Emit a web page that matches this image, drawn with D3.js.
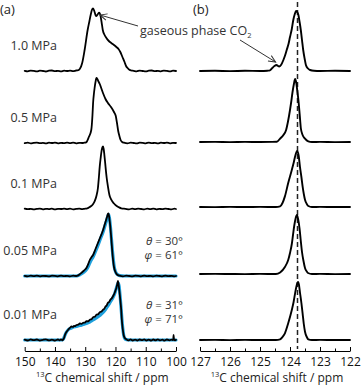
<!DOCTYPE html>
<html><head><meta charset="utf-8">
<script src="https://cdn.jsdelivr.net/npm/d3@7"></script>
<style>body{margin:0;background:#fff}svg{display:block}text{font-family:"Open Sans","Noto Sans",sans-serif}</style>
</head><body><svg id="c" width="361" height="387"></svg>
<script>
// ---------- DATA ----------
const pressures = ["1.0 MPa", "0.5 MPa", "0.1 MPa", "0.05 MPa", "0.01 MPa"];
const leftTicks = [150, 140, 130, 120, 110, 100];
const rightTicks = [127, 126, 125, 124, 123, 122];
const refShift = 123.75; // dashed reference line (ppm)
const thetaLabels = ["30°", "31°"];
const phiLabels = ["61°", "71°"];

// (a) broad spectra [ppm, intensity a.u.]
const a10 = [[150,0.2],[149,-0.3],[148,0.4],[147,0.1],[146,-0.4],[145,0.3],[144,0],[143,-0.5],[142,0.3],[141,0.5],[140,-0.2],[139,0.2],[138,-0.4],[137,0.3],[136,0],[135,0.4],[134,-0.2],[133,0.5],[132.5,0.6],[131.8,2],[131,8],[130.2,21],[129.2,41],[128.6,50],[128.2,56],[127.8,61],[127.4,62.7],[127,60],[126.6,56],[126.3,55],[125.8,57],[125.4,58.3],[125.1,57],[124.6,49],[124.2,41],[123.6,36],[123,33],[122.2,30],[121.4,28],[120.5,26],[119.7,24],[119,22],[118.4,19],[117.7,14],[117,9],[116.5,5],[116,3],[115.4,1.2],[114.8,0.5],[114,0.2],[113,-0.3],[112,0.4],[111,0],[110,-0.4],[109,0.3],[108,0.5],[107,-0.2],[106,0.2],[105,-0.3],[104,0.4],[103,0.1],[102,-0.4],[101,0.3],[100,0]];
const a05 = [[150,-0.2],[149,0.3],[148,-0.3],[147,0.2],[146,0.4],[145,-0.2],[144,0.1],[143,-0.4],[142,0.3],[141,0],[140,0.4],[139,-0.3],[138,0.2],[137,-0.2],[136,0.3],[135,-0.1],[134,0.4],[133,-0.3],[132,0.2],[131,0],[130.3,0.3],[129.7,0.6],[128.8,6],[128,13],[127.6,28],[127.4,40],[127.1,50],[126.9,55],[126.6,61],[126.3,65],[126,64],[125.7,62],[125.2,59],[124.6,54],[124,49],[123.3,44],[122.5,40],[121.5,36],[120.5,31],[119.9,27],[119.5,20],[119.1,12],[118.7,7],[118.3,3],[117.8,1],[117.2,0.3],[116,-0.3],[115,0.3],[114,0],[113,-0.4],[112,0.3],[111,0.1],[110,-0.3],[109,0.4],[108,-0.2],[107,0.2],[106,-0.4],[105,0.3],[104,0],[103,0.4],[102,-0.3],[101,0.2],[100,0]];
const a01 = [[150,0.3],[149,-0.2],[148,0.2],[147,-0.4],[146,0.1],[145,0.4],[144,-0.3],[143,0.2],[142,-0.1],[141,0.3],[140,-0.4],[139,0.2],[138,0],[137,0.4],[136,-0.2],[135,0.3],[134,-0.3],[133,0.1],[132,0.4],[131,-0.2],[130.3,0.2],[129.6,0.4],[128.5,2],[127.5,4.5],[126.9,7.6],[126.3,13],[125.8,21],[125.5,31],[125.2,42.6],[124.9,51],[124.7,56],[124.4,61],[124.1,62.6],[123.9,60],[123.7,55],[123.5,49],[123.3,42.6],[122.9,31],[122.5,22.6],[122,14],[121.4,9.3],[120.5,5.5],[119.7,3.3],[118.9,1.8],[118.1,0.7],[116.7,0.2],[115.5,-0.3],[114.5,0.3],[113.5,-0.2],[112.5,0.4],[111.5,0],[110.5,-0.3],[109.5,0.3],[108.5,-0.1],[107.5,0.4],[106.5,-0.3],[105.5,0.2],[104.5,-0.2],[103.5,0.3],[102.5,0],[101.5,-0.3],[100.5,0.3],[100,0]];
const a005 = [[150,0.2],[149,-0.3],[148,0.3],[147,-0.1],[146,0.4],[145,-0.3],[144,0.2],[143,0],[142,-0.4],[141,0.3],[140,0.1],[139,-0.3],[138,0.4],[137,-0.2],[136,0.2],[135,-0.3],[134,0.3],[133,0],[132.5,0.3],[131.9,1.5],[131.3,3],[130.4,5.5],[129.6,8],[129,12],[128.5,16],[127.9,19],[127.4,21],[126.6,27],[125.8,33],[125,39],[124.1,46],[123.5,52],[122.8,59],[122.5,62],[122.3,62.7],[122,57],[121.7,49],[121.4,38],[121.1,26],[120.8,16],[120.5,9],[120,4],[119.5,1.5],[118.6,0.3],[117.5,-0.3],[116.5,0.3],[115.5,0],[114.5,-0.4],[113.5,0.3],[112.5,0.1],[111.5,-0.3],[110.5,0.4],[109.5,-0.2],[108.5,0.2],[107.5,-0.3],[106.5,0.3],[105.5,0],[104.5,-0.3],[103.5,0.4],[102.5,-0.2],[101.5,0.2],[100.5,-0.3],[100,0]];
const a005fit = [[150,0],[140,0],[133,0],[132.5,0.2],[131.9,1],[131.3,2],[130.4,4],[129.6,6.5],[129,9.5],[128.5,13],[127.9,16.5],[127.4,19],[126.6,24.5],[125.8,30.5],[125,37],[124.1,44],[123.5,50],[122.8,57],[122.4,61],[122.2,61.5],[121.9,56],[121.6,47],[121.3,36],[121,25],[120.7,16],[120.4,9],[120,4.5],[119.5,1.8],[118.6,0.4],[117,0],[110,0],[100,0]];
const a001 = [[150,0.3],[149,-0.5],[148,0.6],[147,-0.2],[146,0.5],[145,-0.6],[144,0.2],[143,0.7],[142,-0.4],[141,0.3],[140,-0.6],[139,0.5],[138.5,-0.3],[138,0.6],[137.5,-0.4],[137.3,0.5],[137,2],[136.7,5],[136.2,8],[135.7,10],[135.1,12],[134.5,13.5],[134,13],[133.7,14.2],[133.3,13.8],[132.9,15],[132.3,15.3],[131.8,16.5],[131.2,16.2],[130.7,17.2],[130.1,17.4],[129.6,18.8],[129,18.7],[128.5,20.3],[127.9,20.8],[127.4,22.8],[126.8,23.3],[126.3,25.2],[125.7,25.8],[125.2,27.8],[124.6,28.4],[124.1,30.3],[123.7,31.2],[123.3,33.4],[122.9,34.6],[122.5,37.2],[122.1,38],[121.7,40.3],[121.3,41.4],[120.9,43.3],[120.6,45],[120.3,47],[120,49.5],[119.7,52],[119.4,56],[119.2,59],[119.05,57],[118.9,54],[118.6,46],[118.4,40],[118.1,30],[117.9,20],[117.6,11],[117.3,5],[116.9,2],[116.4,0.7],[115.8,-0.4],[115,0.6],[114.3,-0.5],[113.5,0.4],[112.8,-0.6],[112,0.5],[111.2,-0.2],[110.5,0.6],[109.8,-0.5],[109,0.3],[108.2,-0.6],[107.5,0.5],[106.8,-0.3],[106,0.6],[105.2,-0.4],[104.5,0.3],[103.8,-0.6],[103,0.5],[102.2,-0.3],[101.5,0.4],[101.1,-0.2],[100.9,1],[100.8,5],[100.65,0.5],[100.3,-0.3],[100,0.2]];
const a001fit = [[150,0],[140,0],[137.5,0],[137.2,1],[136.8,4],[136.3,7.5],[135.7,10],[135,11.5],[134.2,12.5],[133,13.5],[131.8,14.5],[130.7,15.5],[129.6,16.5],[128.5,18],[127.4,20],[126.3,22],[125.2,24.5],[124.1,27.5],[123.3,30.5],[122.5,34],[121.7,38],[120.9,42],[120.3,46],[119.8,51],[119.4,55],[119.1,57],[118.8,54],[118.5,45],[118.2,34],[117.9,22],[117.6,12],[117.3,5],[116.9,1.5],[116.4,0.4],[115,0],[108,0],[100,0]];

// (b) narrow spectra [ppm, intensity a.u.]
const b10 = [[127,0],[126.5,0.2],[126,-0.1],[125.5,0.2],[125,0],[124.75,0.3],[124.67,0.6],[124.6,2.7],[124.52,5],[124.45,6],[124.4,5],[124.36,4.5],[124.3,6],[124.22,11],[124.16,16],[124.11,21],[124.05,27],[124.0,34],[123.94,42],[123.89,51],[123.84,57],[123.8,60],[123.76,59],[123.72,56],[123.68,49],[123.64,41],[123.6,31],[123.56,21],[123.51,12],[123.47,6],[123.4,2.5],[123.33,1],[123.2,0.2],[123,0],[122.5,0.2],[122,0]];
const b05 = [[127,0],[126.5,0.1],[126,-0.1],[125.5,0.1],[125,0],[124.6,0.1],[124.44,0.3],[124.33,3.4],[124.22,7],[124.13,12],[124.07,20],[124.0,32],[123.96,40],[123.92,49],[123.87,58],[123.83,63],[123.79,59],[123.76,52],[123.72,42],[123.69,32],[123.66,21],[123.64,14],[123.58,7],[123.5,3.4],[123.39,0.7],[123.27,0],[123,0.1],[122.5,-0.1],[122,0]];
const b01 = [[127,0],[126.5,-0.1],[126,0.1],[125.5,0],[125,0.1],[124.47,0],[124.33,0.6],[124.25,4],[124.17,10.6],[124.06,24],[123.94,37],[123.88,44],[123.83,50.6],[123.76,56],[123.71,51],[123.67,40.6],[123.62,30],[123.58,20.6],[123.54,13],[123.5,7.3],[123.44,3],[123.39,1],[123.27,0],[123,0.1],[122.5,0],[122,0]];
const b005 = [[127,0],[126.5,0.1],[126,0],[125.5,-0.1],[125,0.1],[124.47,0],[124.33,1.5],[124.17,7],[124.06,14],[124.0,21],[123.94,30],[123.9,39],[123.86,48],[123.81,56],[123.77,59],[123.73,55],[123.68,45],[123.64,33],[123.6,22],[123.55,13],[123.5,6],[123.44,2.5],[123.4,1],[123.27,0],[123,0.1],[122.5,-0.1],[122,0]];
const b001 = [[127,0],[126.5,0.1],[126,-0.1],[125.5,0.1],[125,0],[124.47,0],[124.33,0.7],[124.25,3],[124.17,6.7],[124.06,16.7],[123.94,30],[123.88,38],[123.83,46.7],[123.79,53],[123.76,56.7],[123.73,58],[123.7,55],[123.67,48],[123.62,37],[123.58,26.7],[123.54,16],[123.5,8.3],[123.44,3],[123.39,0.7],[123.27,0],[123,0.1],[122.5,0],[122,0]];

const leftSeries = [a10, a05, a01, a005, a001];
const leftFits = [null, null, null, a005fit, a001fit];
const rightSeries = [b10, b05, b01, b005, b001];

// ---------- LAYOUT ----------
const svg = d3.select("#c");
const axisY = 351;
const leftBase = [71, 143, 209, 276, 340];
const rightBase = [71, 142, 207, 274, 340];
const xL = d3.scaleLinear().domain([150, 100]).range([24.7, 176]);
const xR = d3.scaleLinear().domain([127, 122]).range([200, 350]);
const yI = d3.scaleLinear().domain([0, 60]).range([0, -60]);
const black = "#000", blue = "#1ea0dc", textCol = "#333";

function drawTrace(xs, data, base, color, width) {
  const line = d3.line().x(d => xs(d[0])).y(d => base + yI(d[1])).curve(d3.curveMonotoneX);
  svg.append("path").attr("d", line(data.slice().sort((a, b) => b[0] - a[0])))
    .attr("fill", "none").attr("stroke", color).attr("stroke-width", width)
    .attr("stroke-linejoin", "round").attr("stroke-linecap", "round");
}

// dashed reference line (behind traces)
svg.append("line").attr("x1", xR(refShift)).attr("x2", xR(refShift))
  .attr("y1", 2).attr("y2", axisY - 2)
  .attr("stroke", "#222").attr("stroke-width", 1.5).attr("stroke-dasharray", "5,3");

leftSeries.forEach((s, i) => {
  if (leftFits[i]) drawTrace(xL, leftFits[i], leftBase[i], blue, 3.2);
  drawTrace(xL, s, leftBase[i], black, 1.8);
});
rightSeries.forEach((s, i) => drawTrace(xR, s, rightBase[i], black, 1.9));

// axes
function drawAxis(xs, ticks, minorStep) {
  const [d0, d1] = xs.domain();
  const minor = d3.range(Math.min(d0, d1), Math.max(d0, d1) + 1e-9, minorStep).filter(v => !ticks.includes(v));
  const gm = svg.append("g").attr("transform", `translate(0,${axisY})`)
    .call(d3.axisBottom(xs).tickValues(minor).tickSize(-2.5).tickFormat(""));
  gm.select(".domain").remove();
  gm.selectAll("line").attr("stroke", "#000").attr("stroke-width", 1);
  const g = svg.append("g").attr("transform", `translate(0,${axisY})`)
    .call(d3.axisBottom(xs).tickValues(ticks).tickSizeInner(-4).tickSizeOuter(0).tickPadding(6).tickFormat(d3.format("d")));
  g.select(".domain").attr("stroke", "#000").attr("stroke-width", 1.2);
  g.selectAll("line").attr("stroke", "#000").attr("stroke-width", 1);
  g.selectAll("text").attr("font-size", 12).attr("fill", "#111")
    .attr("font-family", '"Open Sans","Noto Sans",sans-serif');
  const t = svg.append("text").attr("x", (xs.range()[0] + xs.range()[1]) / 2 + 2).attr("y", 382)
    .attr("text-anchor", "middle").attr("font-size", 12).attr("fill", "#222");
  t.append("tspan").attr("font-size", 7.5).attr("dy", -5).text("13");
  t.append("tspan").attr("dy", 5).text("C chemical shift / ppm");
}
drawAxis(xL, leftTicks, 5);
drawAxis(xR, rightTicks, 0.5);

// pressure labels
pressures.forEach((p, i) => {
  svg.append("text").attr("x", 57).attr("y", leftBase[i] - 21).attr("text-anchor", "end")
    .attr("font-size", 12.5).attr("fill", textCol).text(p);
});

// panel labels
svg.append("text").attr("x", 0).attr("y", 14).attr("font-size", 13).attr("fill", "#222").text("(a)");
svg.append("text").attr("x", 193).attr("y", 14).attr("font-size", 13).attr("fill", "#222").text("(b)");

// fit parameters
[3, 4].forEach((si, k) => {
  const t1 = svg.append("text").attr("x", 183).attr("y", leftBase[si] - 31).attr("text-anchor", "end")
    .attr("font-size", 11.5).attr("fill", textCol);
  t1.append("tspan").attr("font-style", "italic").text("θ");
  t1.append("tspan").text(" = " + thetaLabels[k]);
  const t2 = svg.append("text").attr("x", 183).attr("y", leftBase[si] - 17.5).attr("text-anchor", "end")
    .attr("font-size", 11.5).attr("fill", textCol);
  t2.append("tspan").attr("font-style", "italic").text("φ");
  t2.append("tspan").text(" = " + phiLabels[k]);
});

// annotation
const ann = svg.append("text").attr("x", 140).attr("y", 35).attr("font-size", 12.5).attr("fill", textCol);
ann.append("tspan").text("gaseous phase CO");
ann.append("tspan").attr("font-size", 7.5).attr("dy", 3).text("2");

const defs = svg.append("defs");
defs.append("marker").attr("id", "ah").attr("viewBox", "-8 -5 10 10").attr("refX", 0).attr("refY", 0)
  .attr("markerWidth", 10).attr("markerHeight", 10).attr("markerUnits", "userSpaceOnUse").attr("orient", "auto")
  .append("path").attr("d", "M-7,-3.2L0,0L-7,3.2").attr("fill", "none").attr("stroke", "#333").attr("stroke-width", 1);

function arrow(x1, y1, x2, y2) {
  svg.append("line").attr("x1", x1).attr("y1", y1).attr("x2", x2).attr("y2", y2)
    .attr("stroke", "#333").attr("stroke-width", 1).attr("marker-end", "url(#ah)");
}
arrow(138, 26, xL(125.1), leftBase[0] + yI(56));
arrow(240, 40, xR(124.48), rightBase[0] + yI(9));
</script></body></html>
